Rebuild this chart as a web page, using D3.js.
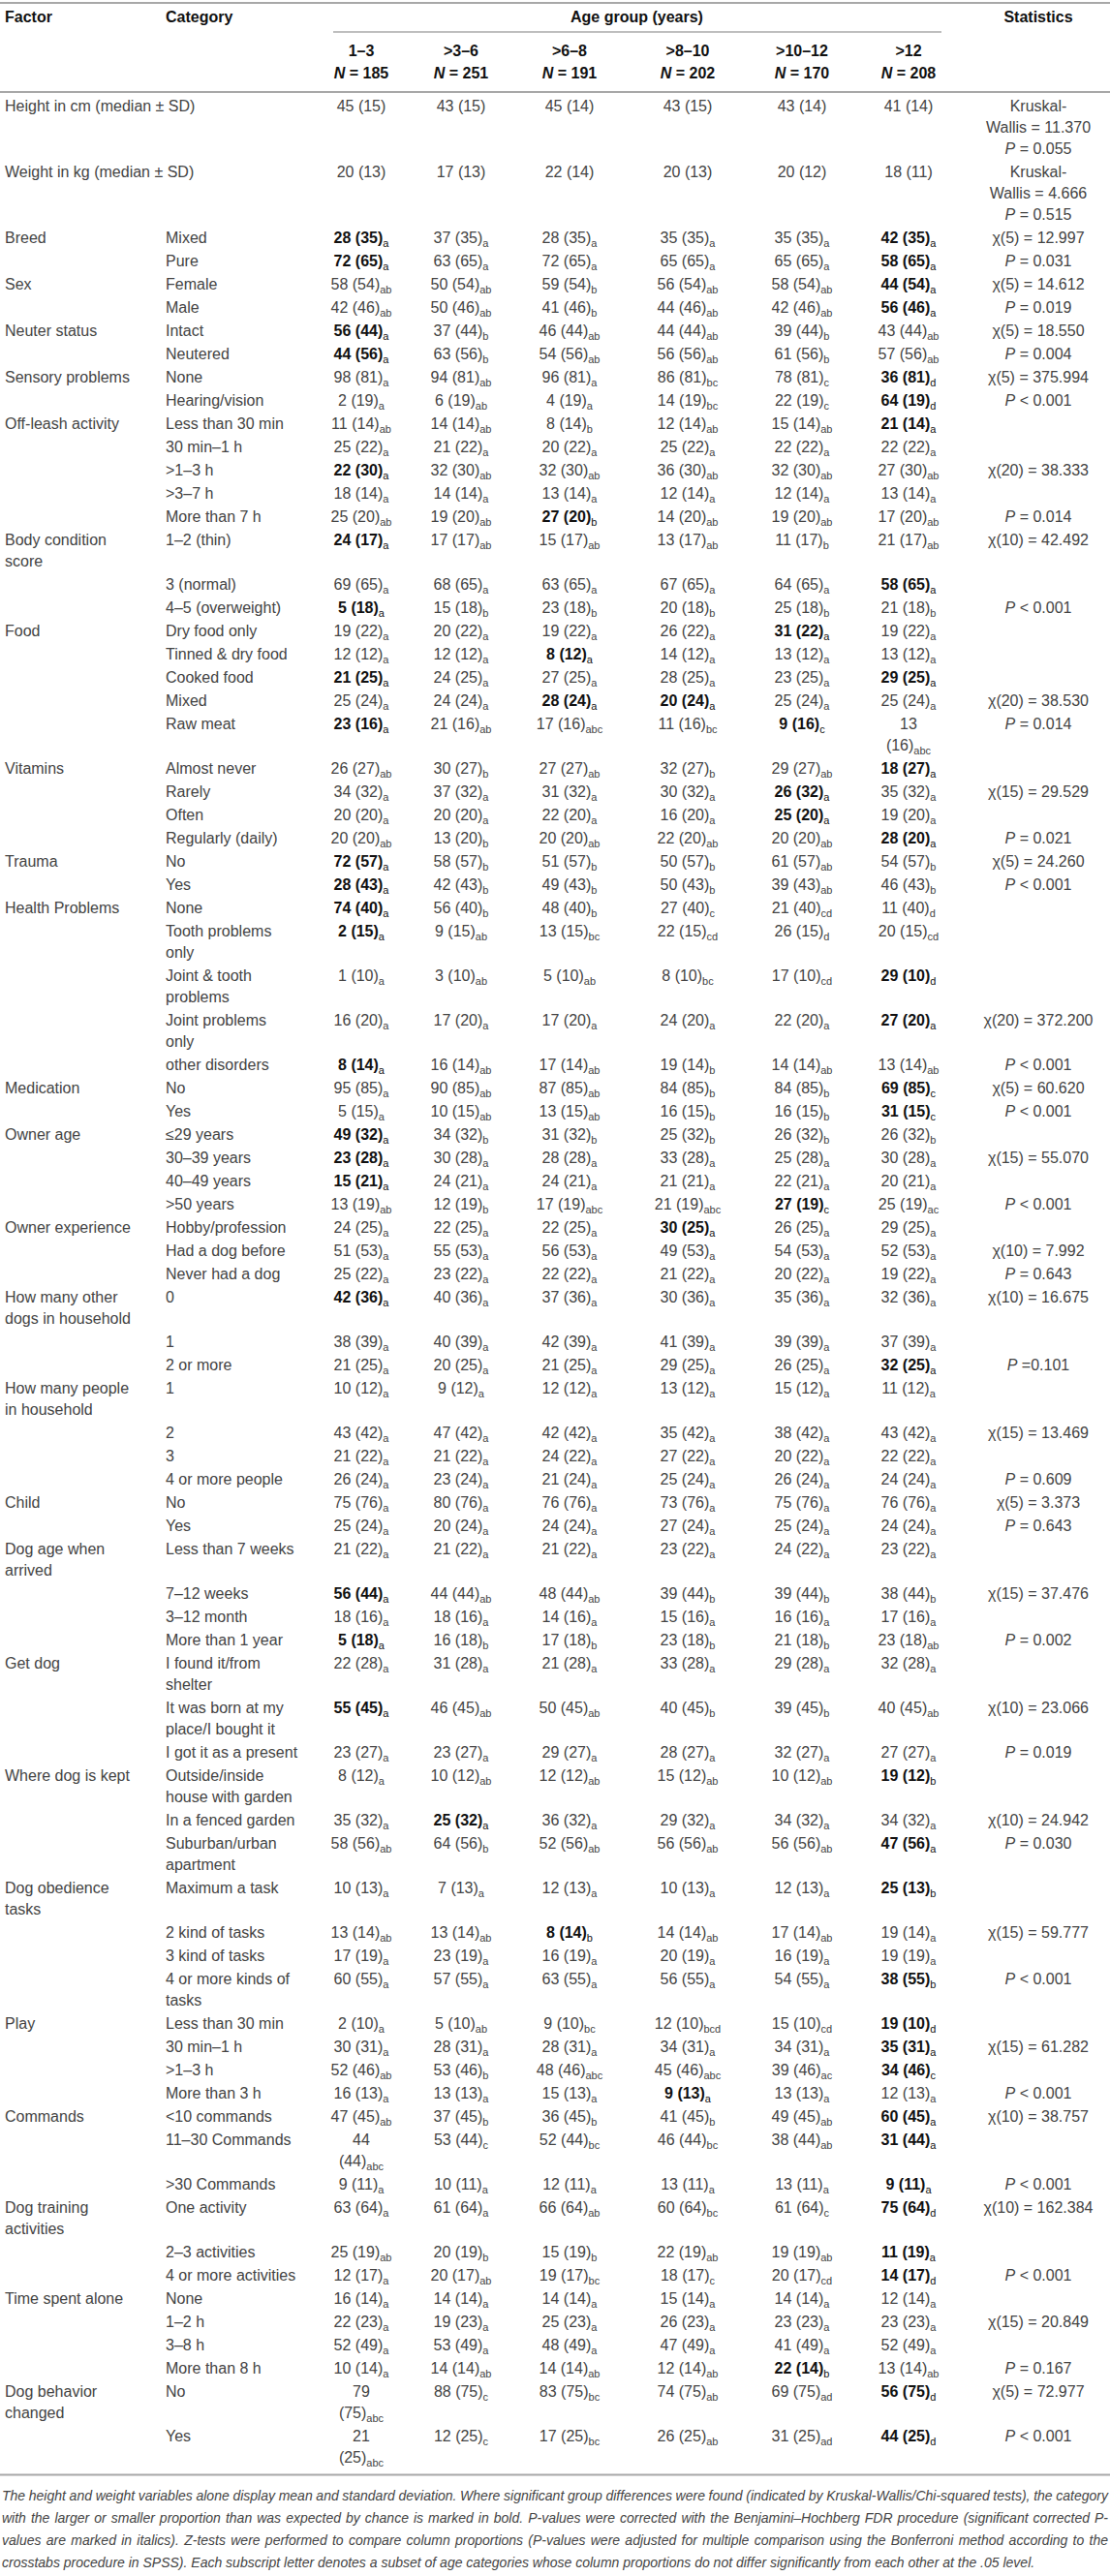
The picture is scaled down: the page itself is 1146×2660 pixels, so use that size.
<!DOCTYPE html>
<html>
<head>
<meta charset="utf-8">
<script src="https://cdn.jsdelivr.net/npm/d3@7"></script>
<style>
  html, body { margin: 0; padding: 0; background: #fff; }
  svg { display: block; font-family: "Liberation Sans", Arial, sans-serif; }
</style>
</head>
<body>
<svg id="chart"></svg>
<script>
// ---- data ----
const ageGroups = ['1–3', '>3–6', '>6–8', '>8–10', '>10–12', '>12'];
const groupN = [185, 251, 191, 202, 170, 208];

const heightMedian = [45, 43, 45, 43, 43, 41];
const heightSD = [15, 15, 14, 15, 14, 14];
const weightMedian = [20, 17, 22, 20, 20, 18];
const weightSD = [13, 13, 14, 13, 12, 11];
const heightStat = ['Kruskal-', 'Wallis = 11.370', 'P = 0.055'];
const weightStat = ['Kruskal-', 'Wallis = 4.666', 'P = 0.515'];

const factors = ['Breed', 'Sex', 'Neuter status', 'Sensory problems', 'Off-leash activity',
  'Body condition score', 'Food', 'Vitamins', 'Trauma', 'Health Problems', 'Medication',
  'Owner age', 'Owner experience', 'How many other dogs in household',
  'How many people in household', 'Child', 'Dog age when arrived', 'Get dog',
  'Where dog is kept', 'Dog obedience tasks', 'Play', 'Commands', 'Dog training activities',
  'Time spent alone', 'Dog behavior changed'];

const categories = [
  ['Mixed', 'Pure'],
  ['Female', 'Male'],
  ['Intact', 'Neutered'],
  ['None', 'Hearing/vision'],
  ['Less than 30 min', '30 min–1 h', '>1–3 h', '>3–7 h', 'More than 7 h'],
  ['1–2 (thin)', '3 (normal)', '4–5 (overweight)'],
  ['Dry food only', 'Tinned & dry food', 'Cooked food', 'Mixed', 'Raw meat'],
  ['Almost never', 'Rarely', 'Often', 'Regularly (daily)'],
  ['No', 'Yes'],
  ['None', 'Tooth problems only', 'Joint & tooth problems', 'Joint problems only', 'other disorders'],
  ['No', 'Yes'],
  ['≤29 years', '30–39 years', '40–49 years', '>50 years'],
  ['Hobby/profession', 'Had a dog before', 'Never had a dog'],
  ['0', '1', '2 or more'],
  ['1', '2', '3', '4 or more people'],
  ['No', 'Yes'],
  ['Less than 7 weeks', '7–12 weeks', '3–12 month', 'More than 1 year'],
  ['I found it/from shelter', 'It was born at my place/I bought it', 'I got it as a present'],
  ['Outside/inside house with garden', 'In a fenced garden', 'Suburban/urban apartment'],
  ['Maximum a task', '2 kind of tasks', '3 kind of tasks', '4 or more kinds of tasks'],
  ['Less than 30 min', '30 min–1 h', '>1–3 h', 'More than 3 h'],
  ['<10 commands', '11–30 Commands', '>30 Commands'],
  ['One activity', '2–3 activities', '4 or more activities'],
  ['None', '1–2 h', '3–8 h', 'More than 8 h'],
  ['No', 'Yes']
];

// observed % per age group
const observed = [
  [[28, 37, 28, 35, 35, 42], [72, 63, 72, 65, 65, 58]],
  [[58, 50, 59, 56, 58, 44], [42, 50, 41, 44, 42, 56]],
  [[56, 37, 46, 44, 39, 43], [44, 63, 54, 56, 61, 57]],
  [[98, 94, 96, 86, 78, 36], [2, 6, 4, 14, 22, 64]],
  [[11, 14, 8, 12, 15, 21], [25, 21, 20, 25, 22, 22], [22, 32, 32, 36, 32, 27], [18, 14, 13, 12, 12, 13], [25, 19, 27, 14, 19, 17]],
  [[24, 17, 15, 13, 11, 21], [69, 68, 63, 67, 64, 58], [5, 15, 23, 20, 25, 21]],
  [[19, 20, 19, 26, 31, 19], [12, 12, 8, 14, 13, 13], [21, 24, 27, 28, 23, 29], [25, 24, 28, 20, 25, 25], [23, 21, 17, 11, 9, 13]],
  [[26, 30, 27, 32, 29, 18], [34, 37, 31, 30, 26, 35], [20, 20, 22, 16, 25, 19], [20, 13, 20, 22, 20, 28]],
  [[72, 58, 51, 50, 61, 54], [28, 42, 49, 50, 39, 46]],
  [[74, 56, 48, 27, 21, 11], [2, 9, 13, 22, 26, 20], [1, 3, 5, 8, 17, 29], [16, 17, 17, 24, 22, 27], [8, 16, 17, 19, 14, 13]],
  [[95, 90, 87, 84, 84, 69], [5, 10, 13, 16, 16, 31]],
  [[49, 34, 31, 25, 26, 26], [23, 30, 28, 33, 25, 30], [15, 24, 24, 21, 22, 20], [13, 12, 17, 21, 27, 25]],
  [[24, 22, 22, 30, 26, 29], [51, 55, 56, 49, 54, 52], [25, 23, 22, 21, 20, 19]],
  [[42, 40, 37, 30, 35, 32], [38, 40, 42, 41, 39, 37], [21, 20, 21, 29, 26, 32]],
  [[10, 9, 12, 13, 15, 11], [43, 47, 42, 35, 38, 43], [21, 21, 24, 27, 20, 22], [26, 23, 21, 25, 26, 24]],
  [[75, 80, 76, 73, 75, 76], [25, 20, 24, 27, 25, 24]],
  [[21, 21, 21, 23, 24, 23], [56, 44, 48, 39, 39, 38], [18, 18, 14, 15, 16, 17], [5, 16, 17, 23, 21, 23]],
  [[22, 31, 21, 33, 29, 32], [55, 46, 50, 40, 39, 40], [23, 23, 29, 28, 32, 27]],
  [[8, 10, 12, 15, 10, 19], [35, 25, 36, 29, 34, 34], [58, 64, 52, 56, 56, 47]],
  [[10, 7, 12, 10, 12, 25], [13, 13, 8, 14, 17, 19], [17, 23, 16, 20, 16, 19], [60, 57, 63, 56, 54, 38]],
  [[2, 5, 9, 12, 15, 19], [30, 28, 28, 34, 34, 35], [52, 53, 48, 45, 39, 34], [16, 13, 15, 9, 13, 12]],
  [[47, 37, 36, 41, 49, 60], [44, 53, 52, 46, 38, 31], [9, 10, 12, 13, 13, 9]],
  [[63, 61, 66, 60, 61, 75], [25, 20, 15, 22, 19, 11], [12, 20, 19, 18, 20, 14]],
  [[16, 14, 14, 15, 14, 12], [22, 19, 25, 26, 23, 23], [52, 53, 48, 47, 41, 52], [10, 14, 14, 12, 22, 13]],
  [[79, 88, 83, 74, 69, 56], [21, 12, 17, 26, 31, 44]]
];

// expected % (same across the row)
const expected = [
  [35, 65], [54, 46], [44, 56], [81, 19], [14, 22, 30, 14, 20], [17, 65, 18],
  [22, 12, 25, 24, 16], [27, 32, 20, 20], [57, 43], [40, 15, 10, 20, 14], [85, 15],
  [32, 28, 21, 19], [25, 53, 22], [36, 39, 25], [12, 42, 22, 24], [76, 24],
  [22, 44, 16, 18], [28, 45, 27], [12, 32, 56], [13, 14, 19, 55], [10, 31, 46, 13],
  [45, 44, 11], [64, 19, 17], [14, 23, 49, 14], [75, 25]
];

// subscript letters (subsets) per age group
const subsets = [
  ['a a a a a a', 'a a a a a a'],
  ['ab ab b ab ab a', 'ab ab b ab ab a'],
  ['a b ab ab b ab', 'a b ab ab b ab'],
  ['a ab a bc c d', 'a ab a bc c d'],
  ['ab ab b ab ab a', 'a a a a a a', 'a ab ab ab ab ab', 'a a a a a a', 'ab ab b ab ab ab'],
  ['a ab ab ab b ab', 'a a a a a a', 'a b b b b b'],
  ['a a a a a a', 'a a a a a a', 'a a a a a a', 'a a a a a a', 'a ab abc bc c abc'],
  ['ab b ab b ab a', 'a a a a a a', 'a a a a a a', 'ab b ab ab ab a'],
  ['a b b b ab b', 'a b b b ab b'],
  ['a b b c cd d', 'a ab bc cd d cd', 'a ab ab bc cd d', 'a a a a a a', 'a ab ab b ab ab'],
  ['a ab ab b b c', 'a ab ab b b c'],
  ['a b b b b b', 'a a a a a a', 'a a a a a a', 'ab b abc abc c ac'],
  ['a a a a a a', 'a a a a a a', 'a a a a a a'],
  ['a a a a a a', 'a a a a a a', 'a a a a a a'],
  ['a a a a a a', 'a a a a a a', 'a a a a a a', 'a a a a a a'],
  ['a a a a a a', 'a a a a a a'],
  ['a a a a a a', 'a ab ab b b b', 'a a a a a a', 'a b b b b ab'],
  ['a a a a a a', 'a ab ab b b ab', 'a a a a a a'],
  ['a ab ab ab ab b', 'a a a a a a', 'ab b ab ab ab a'],
  ['a a a a a b', 'ab ab b ab ab a', 'a a a a a a', 'a a a a a b'],
  ['a ab bc bcd cd d', 'a a a a a a', 'ab b abc abc ac c', 'a a a a a a'],
  ['ab b b b ab a', 'abc c bc bc ab a', 'a a a a a a'],
  ['a a ab bc c d', 'ab b b ab ab a', 'a ab bc c cd d'],
  ['a a a a a a', 'a a a a a a', 'a a a a a a', 'a ab ab ab b ab'],
  ['abc c bc ab ad d', 'abc c bc ab ad d']
];

// 1 = shown in bold
const boldCells = [
  ['100001', '100001'],
  ['000001', '000001'],
  ['100000', '100000'],
  ['000001', '000001'],
  ['000001', '000000', '100000', '000000', '001000'],
  ['100000', '000001', '100000'],
  ['000010', '001000', '100001', '001100', '100010'],
  ['000001', '000010', '000010', '000001'],
  ['100000', '100000'],
  ['100000', '100000', '000001', '000001', '100000'],
  ['000001', '000001'],
  ['100000', '100000', '100000', '000010'],
  ['000100', '000000', '000000'],
  ['100000', '000000', '000001'],
  ['000000', '000000', '000000', '000000'],
  ['000000', '000000'],
  ['000000', '100000', '000000', '100000'],
  ['000000', '100000', '000000'],
  ['000001', '010000', '000001'],
  ['000001', '001000', '000000', '000001'],
  ['000001', '000001', '000001', '000100'],
  ['000001', '000001', '000001'],
  ['000001', '000001', '000001'],
  ['000000', '000000', '000000', '000010'],
  ['000001', '000001']
];

const chiStats = ['χ(5) = 12.997', 'χ(5) = 14.612', 'χ(5) = 18.550', 'χ(5) = 375.994',
  'χ(20) = 38.333', 'χ(10) = 42.492', 'χ(20) = 38.530', 'χ(15) = 29.529', 'χ(5) = 24.260',
  'χ(20) = 372.200', 'χ(5) = 60.620', 'χ(15) = 55.070', 'χ(10) = 7.992', 'χ(10) = 16.675',
  'χ(15) = 13.469', 'χ(5) = 3.373', 'χ(15) = 37.476', 'χ(10) = 23.066', 'χ(10) = 24.942',
  'χ(15) = 59.777', 'χ(15) = 61.282', 'χ(10) = 38.757', 'χ(10) = 162.384', 'χ(15) = 20.849',
  'χ(5) = 72.977'];
const pStats = ['P = 0.031', 'P = 0.019', 'P = 0.004', 'P < 0.001', 'P = 0.014', 'P < 0.001',
  'P = 0.014', 'P = 0.021', 'P < 0.001', 'P < 0.001', 'P < 0.001', 'P < 0.001', 'P = 0.643',
  'P =0.101', 'P = 0.609', 'P = 0.643', 'P = 0.002', 'P = 0.019', 'P = 0.030', 'P < 0.001',
  'P < 0.001', 'P < 0.001', 'P < 0.001', 'P = 0.167', 'P < 0.001'];
// which category row of each factor carries the chi-square and the P value
const chiRow = [0, 0, 0, 0, 2, 0, 3, 1, 0, 3, 0, 1, 1, 0, 1, 0, 1, 1, 1, 1, 1, 0, 0, 1, 0];
const pRow = [1, 1, 1, 1, 4, 2, 4, 3, 1, 4, 1, 3, 2, 2, 3, 1, 3, 2, 2, 3, 3, 2, 2, 3, 1];

const footnote = [
  'The height and weight variables alone display mean and standard deviation. Where significant group differences were found (indicated by Kruskal-Wallis/Chi-squared tests), the category',
  'with the larger or smaller proportion than was expected by chance is marked in bold. P-values were corrected with the Benjamini–Hochberg FDR procedure (significant corrected P-',
  'values are marked in italics). Z-tests were performed to compare column proportions (P-values were adjusted for multiple comparison using the Bonferroni method according to the',
  'crosstabs procedure in SPSS). Each subscript letter denotes a subset of age categories whose column proportions do not differ significantly from each other at the .05 level.'
];

// ---- layout ----
const width = 1146, height = 2660;
const fontSize = 16, subSize = 11;
const textColor = '#444', boldColor = '#111', ruleColor = '#a8a8a8';
const xFactor = 5, xCategory = 171, xStat = 1072;
const factorWidth = 137, categoryWidth = 137;
const cellWidth = [66, 80, 80, 80, 80, 66];
const firstBaseline = 115, rowPitch = 24, lineGap = 22;

const colX = d3.scaleOrdinal()
    .domain(ageGroups)
    .range([373, 476, 588, 710, 828, 938]);

const svg = d3.select('#chart')
    .attr('width', width)
    .attr('height', height)
    .attr('font-size', fontSize)
    .attr('fill', textColor);

// Hidden text used to measure strings.
const probe = svg.append('text').attr('x', -2000).attr('y', -2000);
function measure(str, size, weight) {
  probe.attr('font-size', size).attr('font-weight', weight || 'normal').text(str);
  return probe.node().getComputedTextLength();
}
function wrap(str, maxWidth) {
  const lines = [];
  let line = '';
  str.split(' ').forEach(w => {
    const test = line ? line + ' ' + w : w;
    if (line && measure(test, fontSize) > maxWidth) {
      lines.push(line);
      line = w;
    } else {
      line = test;
    }
  });
  lines.push(line);
  return lines;
}

// Build the rows.
const rows = [];
rows.push({
  factor: ['Height in cm (median ± SD)'], category: [], stat: heightStat,
  cells: heightMedian.map((m, i) => ({num: String(m), par: '(' + heightSD[i] + ')', sub: '', bold: false}))
});
rows.push({
  factor: ['Weight in kg (median ± SD)'], category: [], stat: weightStat,
  cells: weightMedian.map((m, i) => ({num: String(m), par: '(' + weightSD[i] + ')', sub: '', bold: false}))
});

factors.forEach((f, fi) => {
  const factorLines = wrap(f, factorWidth);
  categories[fi].forEach((c, ci) => {
    const subs = subsets[fi][ci].split(' ');
    const cells = observed[fi][ci].map((o, gi) => ({
      num: String(o),
      par: '(' + expected[fi][ci] + ')',
      sub: subs[gi],
      bold: boldCells[fi][ci][gi] === '1'
    }));
    const stat = [];
    if (ci === chiRow[fi]) stat.push(chiStats[fi]);
    if (ci === pRow[fi]) stat.push(pStats[fi]);
    rows.push({
      factor: ci === 0 ? factorLines : [],
      category: wrap(c, categoryWidth),
      cells: cells,
      stat: stat
    });
  });
});

rows.forEach(r => {
  r.cells.forEach((c, gi) => {
    const w = measure(c.num + ' ' + c.par, fontSize, c.bold ? 'bold' : 'normal') +
        (c.sub ? measure(c.sub, subSize) : 0);
    c.wrapped = w > cellWidth[gi];
    c.group = ageGroups[gi];
  });
  r.lines = Math.max(1, r.factor.length, r.category.length, r.stat.length,
      d3.max(r.cells, c => c.wrapped ? 2 : 1));
});

let yCursor = firstBaseline;
rows.forEach(r => {
  r.y = yCursor;
  yCursor += rowPitch + (r.lines - 1) * lineGap;
});
const lastRow = rows[rows.length - 1];
const tableBottom = lastRow.y + (lastRow.lines - 1) * lineGap + 12.5;

// ---- header ----
const header = svg.append('g').attr('font-weight', 'bold').attr('fill', boldColor);

header.append('line')
    .attr('x1', 0).attr('x2', width)
    .attr('y1', 3).attr('y2', 3)
    .attr('stroke', ruleColor).attr('stroke-width', 2);

header.append('text').attr('x', xFactor).attr('y', 23).text('Factor');
header.append('text').attr('x', xCategory).attr('y', 23).text('Category');
header.append('text')
    .attr('x', (colX(ageGroups[0]) + colX(ageGroups[5])) / 2 + 2)
    .attr('y', 23)
    .attr('text-anchor', 'middle')
    .text('Age group (years)');
header.append('text')
    .attr('x', xStat).attr('y', 23)
    .attr('text-anchor', 'middle')
    .text('Statistics');

header.append('line')
    .attr('x1', 344).attr('x2', 972)
    .attr('y1', 33).attr('y2', 33)
    .attr('stroke', ruleColor).attr('stroke-width', 1.5);

header.selectAll('text.age')
    .data(ageGroups)
    .join('text')
    .attr('class', 'age')
    .attr('x', d => colX(d))
    .attr('y', 58)
    .attr('text-anchor', 'middle')
    .text(d => d);

const nText = header.selectAll('text.n')
    .data(ageGroups.map((g, i) => ({group: g, n: groupN[i]})))
    .join('text')
    .attr('class', 'n')
    .attr('x', d => colX(d.group))
    .attr('y', 81)
    .attr('text-anchor', 'middle');
nText.append('tspan').attr('font-style', 'italic').text('N');
nText.append('tspan').text(d => ' = ' + d.n);

header.append('line')
    .attr('x1', 0).attr('x2', width)
    .attr('y1', 95).attr('y2', 95)
    .attr('stroke', ruleColor).attr('stroke-width', 2);

// ---- body ----
const rowG = svg.append('g').selectAll('g.row')
    .data(rows)
    .join('g')
    .attr('class', 'row')
    .attr('transform', d => 'translate(0,' + d.y + ')');

rowG.selectAll('text.factor')
    .data(d => d.factor)
    .join('text')
    .attr('class', 'factor')
    .attr('x', xFactor)
    .attr('y', (d, i) => i * lineGap)
    .text(d => d);

rowG.selectAll('text.category')
    .data(d => d.category)
    .join('text')
    .attr('class', 'category')
    .attr('x', xCategory)
    .attr('y', (d, i) => i * lineGap)
    .text(d => d);

// value cells: wrapped ones put the bracket on a second line
const cellLines = rowG.selectAll('text.cell')
    .data(d => d.cells.flatMap(c => c.wrapped
      ? [{c: c, main: c.num, sub: '', line: 0}, {c: c, main: c.par, sub: c.sub, line: 1}]
      : [{c: c, main: c.num + ' ' + c.par, sub: c.sub, line: 0}]))
    .join('text')
    .attr('class', 'cell')
    .attr('x', d => colX(d.c.group))
    .attr('y', d => d.line * lineGap)
    .attr('text-anchor', 'middle')
    .attr('font-weight', d => d.c.bold ? 'bold' : null)
    .attr('fill', d => d.c.bold ? boldColor : null);
cellLines.append('tspan').text(d => d.main);
cellLines.filter(d => d.sub)
  .append('tspan')
    .attr('dy', 4)
    .attr('font-size', subSize)
    .attr('font-weight', 'normal')
    .text(d => d.sub);

const statText = rowG.selectAll('text.stat')
    .data(d => d.stat)
    .join('text')
    .attr('class', 'stat')
    .attr('x', xStat)
    .attr('y', (d, i) => i * lineGap)
    .attr('text-anchor', 'middle');
statText.filter(d => d[0] === 'P')
  .append('tspan').attr('font-style', 'italic').text('P');
statText.append('tspan').text(d => d[0] === 'P' ? d.slice(1) : d);

svg.append('line')
    .attr('x1', 0).attr('x2', width)
    .attr('y1', tableBottom).attr('y2', tableBottom)
    .attr('stroke', ruleColor).attr('stroke-width', 2);

// ---- footnote ----
const footGap = 23;
const footText = svg.append('g')
    .attr('font-size', 14)
    .attr('font-style', 'italic')
  .selectAll('text')
    .data(footnote)
    .join('text')
    .attr('x', 2)
    .attr('y', (d, i) => tableBottom + 26 + i * footGap)
    .text(d => d);
footText.each(function(d, i) {
  if (i === footnote.length - 1) return;
  const natural = this.getComputedTextLength();
  const spaces = d.split(' ').length - 1;
  d3.select(this).style('word-spacing', ((width - 4 - natural) / spaces) + 'px');
});

probe.remove();
</script>
</body>
</html>
